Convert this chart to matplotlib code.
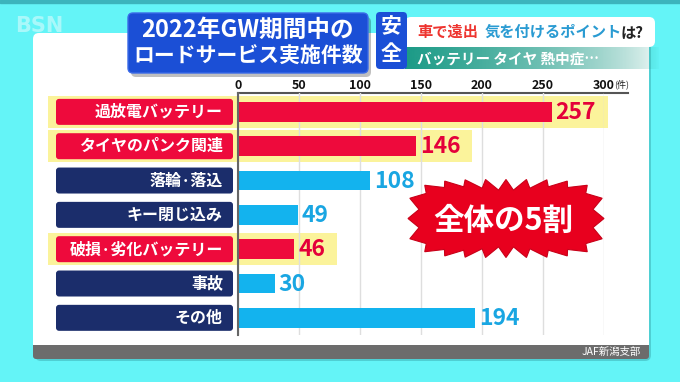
import matplotlib
matplotlib.use("Agg")
import matplotlib.pyplot as plt
from matplotlib.patches import FancyBboxPatch, Rectangle, Polygon
import numpy as np

plt.rcParams['font.family'] = ['Noto Sans CJK JP', 'DejaVu Sans']

# data
categories = ["過放電バッテリー", "タイヤのパンク関連", "落輪·落込", "キー閉じ込み",
              "破損·劣化バッテリー", "事故", "その他"]
counts = [257, 146, 108, 49, 46, 30, 194]
battery_tire = [True, True, False, False, True, False, False]
xticks = [0, 50, 100, 150, 200, 250, 300]

RED = "#ee0a3c"
NAVY = "#1b2d6b"
SKY = "#13b3ee"
SKY_TXT = "#19a6e2"
YELLOW = "#fbf39b"
TITLE_BLUE = "#1b4fd6"

W, H = 680, 382
fig = plt.figure(figsize=(W / 100, H / 100), dpi=100)
fig.patch.set_facecolor("#64f4f7")

# background layer in pixel coords
bg = fig.add_axes([0, 0, 1, 1], zorder=0)
bg.set_xlim(0, W)
bg.set_ylim(H, 0)
bg.axis("off")
bg.add_patch(Rectangle((0, 0), W, 3, color="#3cb4bc"))
bg.text(15, 26, "BSN", fontsize=15, fontweight="bold", color="white", alpha=0.45,
        va="center", ha="left", family="DejaVu Sans")
# panel + shadow
bg.add_patch(FancyBboxPatch((35, 35), 616, 326, boxstyle="round,pad=0,rounding_size=6",
                            facecolor="#2a8a90", alpha=0.35, edgecolor="none"))
bg.add_patch(FancyBboxPatch((33, 33), 616, 326, boxstyle="round,pad=0,rounding_size=6",
                            facecolor="white", edgecolor="none"))
bg.add_patch(FancyBboxPatch((33, 345), 616, 14, boxstyle="round,pad=0,rounding_size=3",
                            facecolor="#6c6c6c", edgecolor="none"))
bg.add_patch(Rectangle((33, 345), 616, 6, facecolor="#6c6c6c", edgecolor="none"))
bg.text(641, 352, "JAF新潟支部", fontsize=7.5, color="white", ha="right", va="center")
# top axis line and unit
bg.plot([238, 628], [93, 93], color="#555555", lw=1.5)
bg.text(614, 84, "(件)", fontsize=6.5, color="#222222", ha="left", va="center")

# chart axes
ax_l, ax_r, ax_t, ax_b = 238, 604, 93, 335
ax = fig.add_axes([ax_l / W, 1 - ax_b / H, (ax_r - ax_l) / W, (ax_b - ax_t) / H], zorder=1)
ax.set_facecolor("none")
ax.set_xlim(0, 300)
ax.set_ylim(6.5, -0.55)
ypos = np.arange(len(categories))
px_x = (ax_r - ax_l) / 300.0
px_y = (ax_b - ax_t) / 7.05

ax.set_xticks(xticks)
ax.set_xticklabels([str(t) for t in xticks], fontweight="bold", fontsize=9, color="#111111")
ax.xaxis.tick_top()
ax.tick_params(axis="x", length=0, pad=1)
ax.set_yticks([])
ax.grid(axis="x", color="#dedede", lw=1)
ax.set_axisbelow(True)
for s in ["top", "right", "bottom"]:
    ax.spines[s].set_visible(False)
ax.spines["left"].set_color("#666666")
ax.spines["left"].set_linewidth(1.5)

bar_colors = [RED if b else SKY for b in battery_tire]
ax.barh(ypos, counts, height=0.58, color=bar_colors, zorder=2)

box_l = (56 - ax_l) / px_x
box_r = (233 - ax_l) / px_x
box_h = 26 / px_y
hl_l = (48 - ax_l) / px_x
hl_h = 32 / px_y
for y, cat, v, hot in zip(ypos, categories, counts, battery_tire):
    if hot:
        hl_r = v + (len(str(v)) * 13 + 17) / px_x
        ax.add_patch(Rectangle((hl_l, y - hl_h / 2), hl_r - hl_l, hl_h, facecolor=YELLOW,
                               edgecolor="none", zorder=0.2, clip_on=False))
    ax.add_patch(FancyBboxPatch((box_l, y - box_h / 2), box_r - box_l, box_h,
                                boxstyle="round,pad=0,rounding_size=2.5",
                                mutation_aspect=px_x / px_y,
                                facecolor=RED if hot else NAVY, edgecolor="none",
                                zorder=2, clip_on=False))
    ax.text((223 - ax_l) / px_x, y, cat, ha="right", va="center", fontsize=11.5,
            fontweight="bold", color="white", zorder=3, clip_on=False)
    ax.text(v + 4 / px_x, y + 0.02, str(v), ha="left", va="center", fontsize=16.5,
            fontweight="bold", color="#e4003a" if hot else SKY_TXT, zorder=3, clip_on=False)

# foreground layer
fg = fig.add_axes([0, 0, 1, 1], zorder=3)
fg.set_xlim(0, W)
fg.set_ylim(H, 0)
fg.axis("off")
fg.patch.set_alpha(0)

# starburst
def starburst(cx, cy, rx, ry, n_teeth, depth, p=4.0):
    t = np.linspace(0, 2 * np.pi, 3000, endpoint=False)
    c, s = np.cos(t), np.sin(t)
    x = rx * np.sign(c) * np.abs(c) ** (2 / p)
    y = ry * np.sign(s) * np.abs(s) ** (2 / p)
    seg = np.hypot(np.diff(x, append=x[0]), np.diff(y, append=y[0]))
    arc = np.concatenate([[0], np.cumsum(seg)[:-1]])
    targets = np.arange(2 * n_teeth) * seg.sum() / (2 * n_teeth)
    xs = np.interp(targets, arc, x)
    ys = np.interp(targets, arc, y)
    r = np.hypot(xs, ys)
    inner = np.arange(2 * n_teeth) % 2 == 1
    xs[inner] -= depth * xs[inner] / r[inner]
    ys[inner] -= depth * ys[inner] / r[inner]
    return np.column_stack([xs + cx, ys + cy])

fg.add_patch(Polygon(starburst(506, 218.5, 98, 39, 24, 11), closed=True,
                     facecolor="#e8001e", edgecolor="#c80018", lw=0.8))
fg.text(503, 221, "全体の5割", fontsize=22, fontweight="bold", color="white",
        ha="center", va="center")

# title box
fg.add_patch(FancyBboxPatch((131, 17), 240, 60, boxstyle="round,pad=0,rounding_size=5",
                            facecolor="#000000", alpha=0.25, edgecolor="none"))
fg.add_patch(FancyBboxPatch((128, 13), 240, 60, boxstyle="round,pad=0,rounding_size=5",
                            facecolor=TITLE_BLUE, edgecolor="#3a6ae8", lw=1))
fg.text(247, 30, "2022年GW期間中の", fontsize=17, fontweight="bold", color="white",
        ha="center", va="center")
fg.text(248, 56, "ロードサービス実施件数", fontsize=15, fontweight="bold", color="white",
        ha="center", va="center")

# right header
fg.add_patch(FancyBboxPatch((405, 17), 250, 30, boxstyle="round,pad=0,rounding_size=6",
                            facecolor="white", edgecolor="none"))
grad = np.zeros((1, 256, 4))
teal = np.array([0x1a, 0x9a, 0x86]) / 255
grad[..., :3] = teal
grad[..., 3] = np.linspace(1.0, 0.0, 256) ** 0.6
fg.imshow(grad, extent=(405, 660, 69, 47), aspect="auto", interpolation="bilinear", zorder=1)
fg.add_patch(FancyBboxPatch((376, 12), 31, 57, boxstyle="round,pad=0,rounding_size=4",
                            facecolor=TITLE_BLUE, edgecolor="none", zorder=2))
fg.text(391.5, 27, "安", fontsize=15, fontweight="bold", color="white", ha="center",
        va="center", zorder=3)
fg.text(391.5, 53, "全", fontsize=15, fontweight="bold", color="white", ha="center",
        va="center", zorder=3)
fg.text(417, 32, "車で遠出", fontsize=11, fontweight="bold", color="#ee3530",
        ha="left", va="center", zorder=3)
fg.text(485, 32, "気を付けるポイント", fontsize=11, fontweight="bold", color="#2a9bd2",
        ha="left", va="center", zorder=3)
fg.text(621, 32, "は?", fontsize=11, fontweight="bold", color="#222222",
        ha="left", va="center", zorder=3)
fg.text(417, 59, "バッテリー タイヤ 熱中症…", fontsize=10.5, fontweight="bold",
        color="white", ha="left", va="center", zorder=3)

fig.savefig("out.png", dpi=100)
